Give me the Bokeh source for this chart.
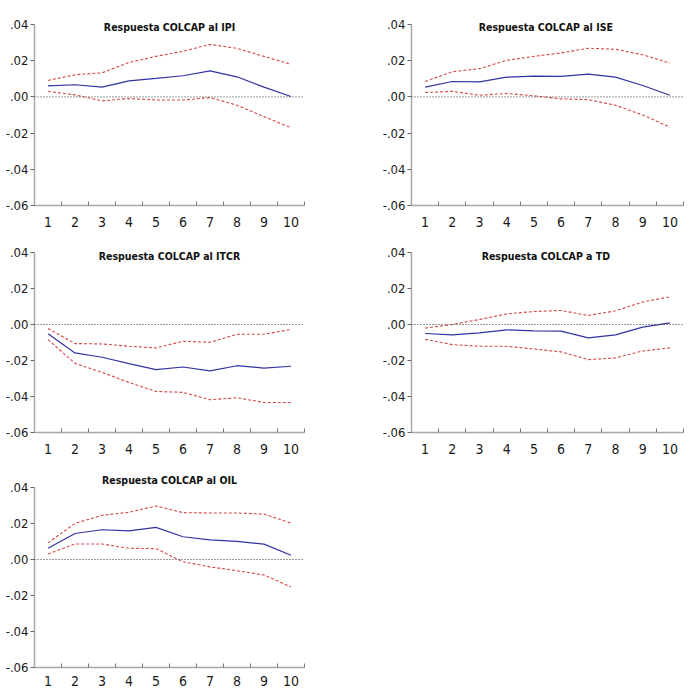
from bokeh.plotting import figure
from bokeh.layouts import column, row
from bokeh.models import FixedTicker, Span, Range1d, Label
from bokeh.embed import file_html
from bokeh.resources import INLINE

periods = [1, 2, 3, 4, 5, 6, 7, 8, 9, 10]

titles = ["Respuesta COLCAP al IPI", "Respuesta  COLCAP al ISE",
          "Respuesta COLCAP al ITCR", "Respuesta  COLCAP a TD",
          "Respuesta COLCAP al OIL"]

ipi_resp = [0.0061, 0.0067, 0.0054, 0.0089, 0.0102, 0.0117, 0.0144, 0.0111, 0.0054, 0.0002]
ipi_up = [0.0091, 0.0122, 0.0133, 0.0190, 0.0224, 0.0252, 0.0290, 0.0268, 0.0224, 0.0180]
ipi_lo = [0.0031, 0.0011, -0.0022, -0.0009, -0.0017, -0.0017, -0.0004, -0.0046, -0.0109, -0.0170]

ise_resp = [0.0054, 0.0085, 0.0083, 0.0109, 0.0115, 0.0113, 0.0126, 0.0109, 0.0063, 0.0009]
ise_up = [0.0085, 0.0139, 0.0156, 0.0202, 0.0224, 0.0243, 0.0269, 0.0263, 0.0233, 0.0187]
ise_lo = [0.0024, 0.0031, 0.0009, 0.0019, 0.0006, -0.0011, -0.0015, -0.0046, -0.0100, -0.0167]

itcr_resp = [-0.0052, -0.0158, -0.0182, -0.0217, -0.0251, -0.0236, -0.0258, -0.0229, -0.0242, -0.0232]
itcr_up = [-0.0022, -0.0106, -0.0108, -0.0121, -0.0130, -0.0093, -0.0099, -0.0054, -0.0054, -0.0028]
itcr_lo = [-0.0084, -0.0216, -0.0266, -0.0322, -0.0372, -0.0377, -0.0418, -0.0407, -0.0433, -0.0433]

td_resp = [-0.0050, -0.0058, -0.0046, -0.0030, -0.0035, -0.0037, -0.0074, -0.0058, -0.0015, 0.0009]
td_up = [-0.0020, 0.0000, 0.0028, 0.0059, 0.0072, 0.0078, 0.0050, 0.0076, 0.0125, 0.0154]
td_lo = [-0.0082, -0.0112, -0.0121, -0.0121, -0.0136, -0.0152, -0.0195, -0.0186, -0.0147, -0.0130]

oil_resp = [0.0062, 0.0144, 0.0165, 0.0159, 0.0178, 0.0126, 0.0109, 0.0100, 0.0085, 0.0023]
oil_up = [0.0092, 0.0200, 0.0245, 0.0262, 0.0297, 0.0260, 0.0258, 0.0258, 0.0252, 0.0202]
oil_lo = [0.0030, 0.0086, 0.0086, 0.0062, 0.0060, -0.0013, -0.0041, -0.0063, -0.0086, -0.0153]

y_min, y_max = -0.06, 0.04
y_ticks = [-0.06, -0.04, -0.02, 0.0, 0.02, 0.04]
y_tick_labels = ["-.06", "-.04", "-.02", ".00", ".02", ".04"]
x_minor = [0.5, 1.5, 2.5, 3.5, 4.5, 5.5, 6.5, 7.5, 8.5, 9.5, 10.5]

FONT = "DejaVu Sans Condensed, Roboto"
BLUE = "#3333a3"
RED = "#d24a4a"


def panel(title, resp, up, lo, width, height, left, right, top, bottom,
          axis_px, extra_px, title_px, x_standoff):
    # axis_px: pixel height of the -.06 .. .04 axis; extra_px: empty room above it
    per_px = (y_max - y_min) / axis_px
    y_top = y_max + extra_px * per_px
    p = figure(width=width, height=height, output_backend="svg", toolbar_location=None,
               x_range=Range1d(0.5, 10.5), y_range=Range1d(y_min, y_top),
               min_border_left=left, min_border_right=right,
               min_border_top=top, min_border_bottom=bottom)
    p.outline_line_color = None
    p.xgrid.visible = False
    p.ygrid.visible = False
    p.background_fill_color = "white"
    p.border_fill_color = "white"

    p.add_layout(Span(location=0, dimension="width", line_color="#333333",
                      line_width=1, line_dash="1 2"))
    p.line(periods, up, line_color=RED, line_width=1.1, line_dash="3 2")
    p.line(periods, lo, line_color=RED, line_width=1.1, line_dash="3 2")
    p.line(periods, resp, line_color=BLUE, line_width=1.2)

    xa = p.xaxis[0]
    xa.ticker = FixedTicker(ticks=periods, minor_ticks=x_minor)
    xa.axis_line_color = "#a8a8a8"
    xa.axis_line_width = 1.5
    xa.major_tick_in = 0
    xa.major_tick_out = 0
    xa.minor_tick_in = 4
    xa.minor_tick_out = 0
    xa.minor_tick_line_color = "#777777"
    xa.major_label_text_font = FONT
    xa.major_label_text_font_size = "14px"
    xa.major_label_text_color = "#1a1a1a"
    xa.major_label_standoff = x_standoff

    ya = p.yaxis[0]
    ya.ticker = FixedTicker(ticks=y_ticks, minor_ticks=[])
    ya.bounds = (y_min, y_max)
    ya.major_label_overrides = {t: l for t, l in zip(y_ticks, y_tick_labels)}
    ya.axis_line_color = "#a8a8a8"
    ya.axis_line_width = 1.5
    ya.major_tick_in = 0
    ya.major_tick_out = 4
    ya.major_tick_line_color = "#666666"
    ya.major_label_text_font = FONT
    ya.major_label_text_font_size = "13px"
    ya.major_label_text_color = "#1a1a1a"
    ya.major_label_standoff = 2

    # title centred title_px pixels above (+) / below (-) the .04 line
    p.add_layout(Label(x=5.5, y=y_max + title_px * per_px, text=title,
                       text_align="center", text_baseline="middle",
                       text_font=FONT, text_font_size="10.5px",
                       text_font_style="bold", text_color="#111111"))
    return p


# row 1: .04 line at y=24, axis 181 px, 6 px of room above
f1 = panel(titles[0], ipi_resp, ipi_up, ipi_lo, 348, 232, 34, 44, 18, 27, 181, 6, -2.5, 11)
f2 = panel(titles[1], ise_resp, ise_up, ise_lo, 343, 232, 63, 8, 18, 27, 181, 6, -2.5, 11)
# row 2
f3 = panel(titles[2], itcr_resp, itcr_up, itcr_lo, 348, 227, 34, 44, 14, 27, 180, 6, -3, 11)
f4 = panel(titles[3], td_resp, td_up, td_lo, 343, 227, 63, 8, 14, 27, 180, 6, -3, 11)
# row 3
f5 = panel(titles[4], oil_resp, oil_up, oil_lo, 348, 229, 34, 44, 14, 20, 181, 14, 7, 8)

layout = column(row(f1, f2), row(f3, f4), f5)

open("out.html", "w").write(file_html(layout, INLINE))
